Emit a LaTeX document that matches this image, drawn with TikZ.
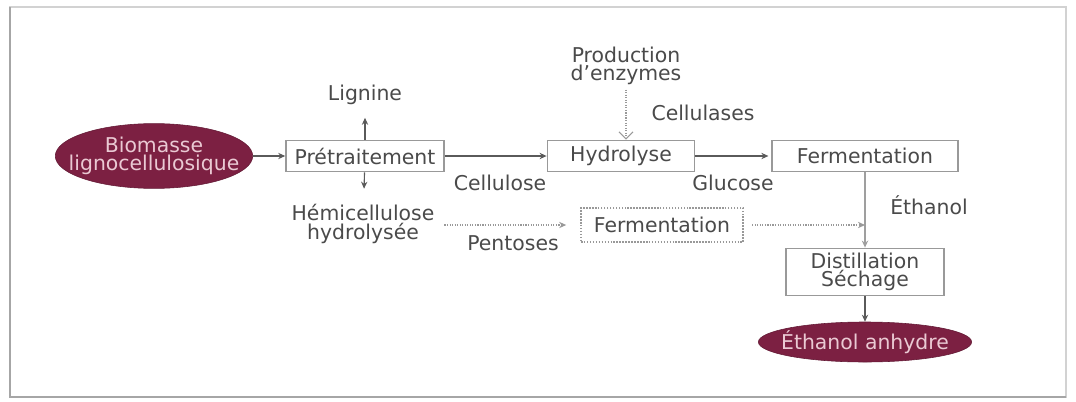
\documentclass[tikz,border=0pt]{standalone}
\usepackage{fontspec}
\setmainfont{DejaVu Sans}
\usetikzlibrary{arrows.meta,shapes.geometric}
\definecolor{bordeaux}{HTML}{7C2042}
\definecolor{rosepale}{HTML}{EAC9D3}
\definecolor{texte}{HTML}{4A4A4A}
\definecolor{trait}{HTML}{5A5A5A}
\begin{document}
\begin{tikzpicture}[x=0.025cm, y=-0.025cm,
    font=\fontsize{14.5}{13.2}\selectfont, text=texte,
    etape/.style={draw=gray!80, line width=1.1pt, minimum height=0.78cm, inner sep=2pt, align=center},
    etapept/.style={etape, densely dotted, draw=gray!80},
    produit/.style={ellipse, fill=bordeaux, draw=bordeaux!80!black, text=rosepale, inner ysep=0pt, align=center},
    etiq/.style={inner sep=1pt, align=center},
    fleche/.style={draw=trait, line width=0.8pt, -{Stealth[length=5pt,width=4.5pt]}},
    flechept/.style={draw=gray!80, line width=0.8pt, densely dotted, -{Stealth[length=5pt,width=4.5pt]}}]
    \useasboundingbox (0,0) rectangle (1076,401);
    % cadre
    \draw [gray!35, line width=0.8pt] (10,7) rectangle (1066,397);
    \draw [gray!70, line width=1.6pt] (10,7) -- (10,397) -- (1066,397);
    % noeuds
    \node [produit, inner xsep=-11pt, minimum height=1.62cm] (biomasse) at (154,156) {Biomasse\\lignocellulosique};
    \node [etape, minimum width=3.95cm] (pretr) at (365,156) {Prétraitement};
    \node [etape, minimum width=3.68cm] (hydro) at (621,156) {Hydrolyse};
    \node [etape, minimum width=4.65cm] (ferm) at (865,156) {Fermentation};
    \node [etapept, minimum width=4.05cm, minimum height=0.85cm] (fermpent) at (662,225) {Fermentation};
    \node [etape, minimum width=3.95cm, minimum height=1.18cm] (distil) at (865,272) {Distillation\\Séchage};
    \node [produit, inner xsep=-6pt, minimum height=1.0cm] (anhydre) at (865,342) {Éthanol anhydre};
    \node [etiq] (lignine) at (365,95) {Lignine};
    \node [etiq] (hemi) at (363,224) {Hémicellulose\\hydrolysée};
    \node [etiq] (enzymes) at (626,66) {Production\\d’enzymes};
    \coordinate (jonction) at (865,225);
    % fleches
    \draw [fleche] (biomasse) -- (pretr);
    \draw [fleche, shorten >=8pt] (pretr) -- (lignine);
    \draw [fleche, shorten >=10pt] (pretr) -- (hemi);
    \draw [fleche] (pretr) -- (hydro);
    \draw [fleche, shorten >=2pt] (hydro) -- (ferm);
    \draw [fleche, draw=gray!75, line width=1.2pt] (ferm) -- (distil);
    \draw [fleche] (distil) -- (anhydre);
    \draw [flechept, shorten <=6pt, shorten >=10pt] (hemi.east |- fermpent) -- (fermpent);
    \draw [flechept, shorten <=6pt] (fermpent) -- (jonction);
    \draw [draw=gray!80, line width=0.8pt, densely dotted, -{Straight Barb[length=5pt,width=10pt]}, shorten <=2pt] (enzymes) -- (enzymes |- hydro.north);
    % etiquettes
    \node [etiq] (cellulose) at (500,183) {Cellulose};
    \node [etiq] (glucose) at (733,183) {Glucose};
    \node [etiq] (cellulases) at (703,113) {Cellulases};
    \node [etiq] (pentoses) at (513,243) {Pentoses};
    \node [etiq] (ethanol) at (929,205) {Éthanol};
\end{tikzpicture}
\end{document}
